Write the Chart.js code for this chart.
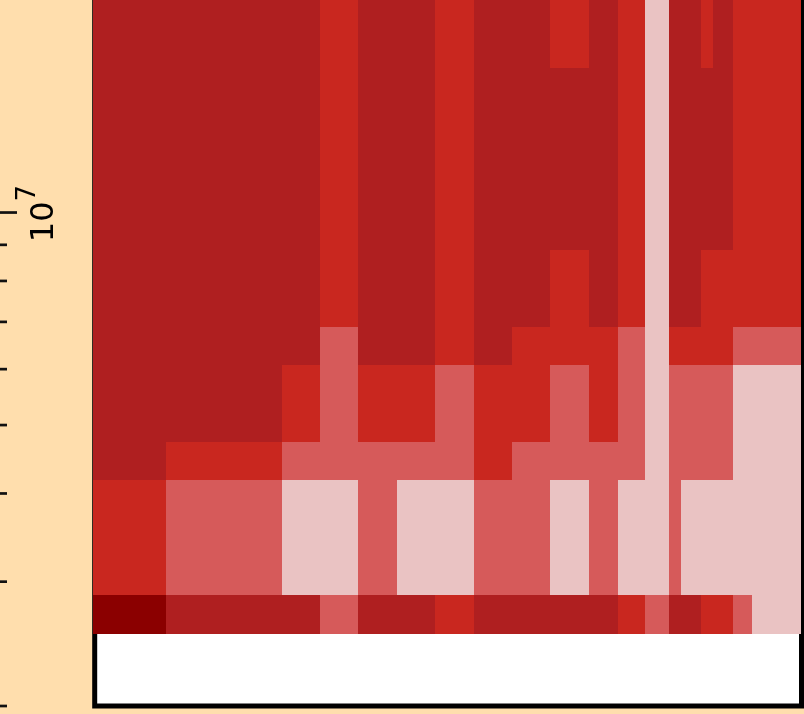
<!DOCTYPE html>
<html><head><meta charset="utf-8">
<script src="https://cdn.jsdelivr.net/npm/chart.js@4"></script>
<style>html,body{margin:0;padding:0;background:#FFDEAD;overflow:hidden}canvas{display:block}</style>
</head><body>
<canvas id="c" width="804" height="714"></canvas>
<script>
// Column boundaries (x units, regular column width = 1)
const xEdges = [0, 1.90, 4.925, 5.915, 6.905, 7.93, 8.91, 9.93, 10.92, 11.91, 12.925, 13.68, 14.385, 15.01, 15.32, 15.84, 16.16, 16.68, 17.17, 18.46];
// Row boundaries (y values, ascending)
const yEdges = [2.532e6, 2.87e6, 4.176e6, 4.73e6, 6.076e6, 6.88e6, 8.85e6, 1.604e7, 2.0e7];
// Cell levels per row, bottom row first (0 = lowest ... 4 = highest)
const row1 = [4,3,3,1,3,3,2,3,3,3,3,2,1,3,3,2,2,1,0];
const row2 = [2,1,0,0,1,0,0,1,1,0,1,0,0,1,0,0,0,0,0];
const row3 = [3,2,1,1,1,1,1,2,1,1,1,1,0,1,1,1,1,0,0];
const row4 = [3,3,2,1,2,2,1,2,2,1,2,1,0,1,1,1,1,0,0];
const row5 = [3,3,3,1,3,3,2,3,2,2,2,1,0,2,2,2,2,1,1];
const row6 = [3,3,3,2,3,3,2,3,3,2,3,2,0,3,3,2,2,2,2];
const row7 = [3,3,3,2,3,3,2,3,3,3,3,2,0,3,3,3,3,2,2];
const row8 = [3,3,3,2,3,3,2,3,3,2,3,2,0,3,3,2,3,2,2];
const levelColors = ['#EAC3C3', '#D65A5A', '#C9271F', '#AF1F20', '#8B0000'];
// Y axis ticks
const yTickValues = [2e6, 3e6, 4e6, 5e6, 6e6, 7e6, 8e6, 9e6, 1e7];
const yMajorTick = 1e7;
const yMajorBase = '10', yMajorExp = '7';

const rows = [row1, row2, row3, row4, row5, row6, row7, row8];

const heatPlugin = {
  id: 'heat',
  beforeDatasetsDraw(chart) {
    const {ctx, chartArea: a, scales: {x, y}} = chart;
    ctx.save();
    ctx.fillStyle = '#FFFFFF';
    ctx.fillRect(a.left, a.top, a.right - a.left, a.bottom - a.top);
    ctx.strokeStyle = '#000000';
    ctx.lineWidth = 5;
    ctx.strokeRect(a.left + 1.7, a.top - 20, (a.right + 0.5) - (a.left + 1.7), a.bottom - (a.top - 20));
    rows.forEach((row, r) => {
      row.forEach((lv, c) => {
        const x0 = Math.round(x.getPixelForValue(xEdges[c]));
        const x1 = Math.round(x.getPixelForValue(xEdges[c + 1]));
        const yb = Math.round(y.getPixelForValue(yEdges[r]));
        const yt = Math.round(y.getPixelForValue(yEdges[r + 1]));
        ctx.fillStyle = levelColors[lv];
        ctx.fillRect(x0, yt, x1 - x0, yb - yt);
      });
    });
    ctx.restore();
  },
  afterDraw(chart) {
    const {ctx, scales: {y}} = chart;
    ctx.save();
    ctx.strokeStyle = '#111111';
    ctx.lineWidth = 2.7;
    yTickValues.forEach(v => {
      const py = y.getPixelForValue(v);
      const len = v === yMajorTick ? 17 : 7;
      ctx.beginPath();
      ctx.moveTo(y.left, py);
      ctx.lineTo(y.left + len, py);
      ctx.stroke();
    });
    const py = y.getPixelForValue(yMajorTick);
    ctx.translate(y.left + 53, py);
    ctx.rotate(-Math.PI / 2);
    ctx.fillStyle = '#000000';
    ctx.textBaseline = 'alphabetic';
    ctx.textAlign = 'left';
    const baseFont = '32px "DejaVu Sans", sans-serif';
    const expFont = '26px "DejaVu Sans", sans-serif';
    ctx.font = baseFont;
    const w1 = ctx.measureText(yMajorBase).width;
    ctx.font = expFont;
    const w2 = ctx.measureText(yMajorExp).width;
    const start = -(w1 + w2) / 2 - 1;
    ctx.font = baseFont;
    ctx.fillText(yMajorBase, start, 0);
    ctx.font = expFont;
    ctx.fillText(yMajorExp, start + w1, -18);
    ctx.restore();
  }
};

new Chart(document.getElementById('c'), {
  type: 'scatter',
  data: { datasets: [{ data: [], pointRadius: 0 }] },
  options: {
    responsive: false,
    animation: false,
    devicePixelRatio: 1,
    layout: { padding: { left: 0, right: 3, top: 0, bottom: 8 } },
    plugins: { legend: { display: false }, tooltip: { enabled: false } },
    scales: {
      x: { type: 'linear', display: false, min: xEdges[0], max: xEdges[xEdges.length - 1] },
      y: {
        type: 'logarithmic', min: 2e6, max: 2e7,
        ticks: { display: false },
        grid: { display: false },
        border: { display: false },
        afterFit(s) { s.width = 93; }
      }
    }
  },
  plugins: [heatPlugin]
});
</script>
</body></html>
